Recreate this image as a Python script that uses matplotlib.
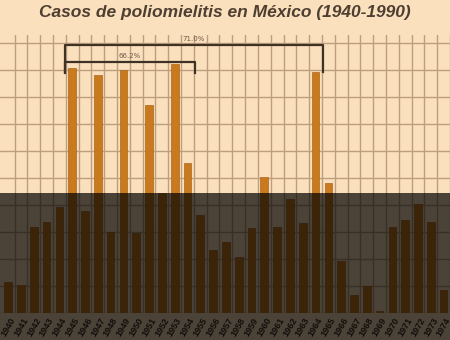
import matplotlib as mpl
mpl.use("Agg")
import matplotlib.pyplot as plt
from matplotlib.patches import Rectangle
from matplotlib.ticker import MultipleLocator
import numpy as np

# ---------------------------------------------------------------------------
# data (cases per year)
# ---------------------------------------------------------------------------
years = [str(y) for y in range(1940, 1975)]
cases = [294, 264, 804, 844, 989, 2273, 949, 2208, 757, 2255,
         743, 1931, 1116, 2310, 1394, 912, 588, 665, 526, 789,
         1267, 804, 1057, 835, 2236, 1206, 489, 171, 257, 26,
         798, 866, 1014, 844, 218]

# brackets: (first bar, last bar, label)
brackets = [(5, 24, "71.0%"), (5, 14, "66.2%")]
bracket_top = [2486, 2331]
bracket_tip = [2236, 2227]

# ---------------------------------------------------------------------------
# style
# ---------------------------------------------------------------------------
BG = "#fbe0bd"
BAR = "#c97a1e"
GRID = "#bd9f7f"
INK = "#3e3224"

fig = plt.figure(figsize=(4.5, 3.4), dpi=100, facecolor=BG)
ax = fig.add_axes([0.0, 0.078, 1.0, 0.82])
ax.set_facecolor(BG)

x = np.arange(len(cases))
ax.bar(x, cases, width=0.6, color=BAR, edgecolor="#b0661a", linewidth=0.5, zorder=3)

for (a, b, lab), top, tip in zip(brackets, bracket_top, bracket_tip):
    xl, xr = a - 0.55, b + 0.55
    ax.plot([xl, xl, xr, xr], [tip, top, top, tip], color=INK, lw=1.6,
            solid_joinstyle="round", zorder=4)
    ax.text((xl + xr) / 2, top + 25, lab, ha="center", va="bottom",
            fontsize=5, color="#6a5a48", zorder=4)

ax.set_xlim(-0.64, 34.05)
ax.set_ylim(0, 2580)
ax.yaxis.set_major_locator(MultipleLocator(250))
ax.set_xticks(x)
ax.set_xticklabels(years, rotation=60, fontsize=6.5, color="#3a2c1e",
                   fontweight="bold", family="Liberation Sans")
ax.set_xticks(x + 0.5, minor=True)
ax.tick_params(axis="x", which="both", length=0, pad=2)
ax.tick_params(axis="y", which="both", length=0, labelleft=False)
ax.grid(True, axis="y", which="major", color=GRID, lw=1.0, zorder=0)
ax.grid(True, axis="x", which="minor", color=GRID, lw=1.0, zorder=0)
ax.grid(False, axis="x", which="major")
for s in ax.spines.values():
    s.set_visible(False)

fig.text(0.5, 0.963, "Casos de poliomielitis en México (1940-1990)",
         ha="center", va="center", fontsize=12.5, fontweight="bold",
         fontstyle="italic", color="#4e3f32", family="Liberation Sans")

# dark band over the lower part of the picture
fig.add_artist(Rectangle((0, 0), 1, 147 / 340, transform=fig.transFigure,
                         facecolor="black", alpha=0.7, edgecolor="none", zorder=10))

fig.savefig("out.png", dpi=100, facecolor=BG)
